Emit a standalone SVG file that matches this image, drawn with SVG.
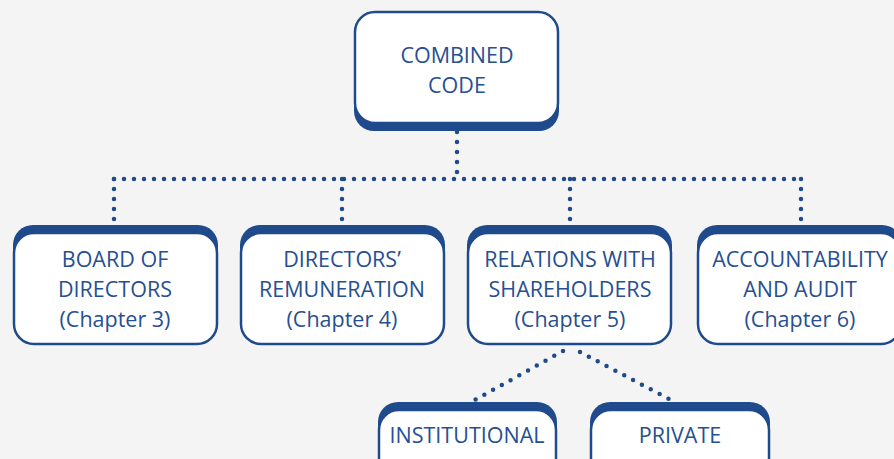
<svg xmlns="http://www.w3.org/2000/svg" width="894" height="459" viewBox="0 0 894 459">
<style>
.sh{fill:#1f4a8c}
.bx{fill:#ffffff;stroke:#1f4a8c;stroke-width:2.5}
.t{font-family:"Open Sans","Noto Sans",sans-serif;font-size:21.5px;fill:#274f91;text-anchor:middle}
.dot{fill:none;stroke:#1f4a8c;stroke-width:4.5;stroke-linecap:round;stroke-dasharray:0 10}
</style>
<rect width="894" height="459" fill="#f4f4f4"/>
<g id="connectors">
<path class="dot" d="M457 132 V178"/>
<path class="dot" d="M114 179 H801"/>
<path class="dot" d="M114 179 V222"/>
<path class="dot" d="M342 179 V222"/>
<path class="dot" d="M570 179 V222"/>
<path class="dot" d="M801 179 V222"/>
<path class="dot" d="M563 351 L473 401"/>
<path class="dot" d="M580 352 L671 400"/>
</g>
<g id="combined">
<rect class="sh" x="354" y="20" width="205" height="111" rx="20"/>
<rect class="bx" x="355" y="12" width="203" height="111" rx="20"/>
<text class="t" x="457" y="63">COMBINED</text>
<text class="t" x="457" y="93">CODE</text>
</g>
<g id="board">
<rect class="sh" x="13" y="225" width="205" height="112" rx="20"/>
<rect class="bx" x="14" y="233" width="203" height="111" rx="20"/>
<text class="t" x="115" y="267">BOARD OF</text>
<text class="t" x="115" y="297">DIRECTORS</text>
<text class="t" x="115" y="327">(Chapter 3)</text>
</g>
<g id="remuneration">
<rect class="sh" x="240" y="225" width="205" height="112" rx="20"/>
<rect class="bx" x="241" y="233" width="203" height="111" rx="20"/>
<text class="t" x="342" y="267">DIRECTORS’</text>
<text class="t" x="342" y="297">REMUNERATION</text>
<text class="t" x="342" y="327">(Chapter 4)</text>
</g>
<g id="relations">
<rect class="sh" x="467" y="225" width="205" height="112" rx="20"/>
<rect class="bx" x="468" y="233" width="203" height="111" rx="20"/>
<text class="t" x="570" y="267">RELATIONS WITH</text>
<text class="t" x="570" y="297">SHAREHOLDERS</text>
<text class="t" x="570" y="327">(Chapter 5)</text>
</g>
<g id="accountability">
<rect class="sh" x="697" y="225" width="205" height="112" rx="20"/>
<rect class="bx" x="698" y="233" width="203" height="111" rx="20"/>
<text class="t" x="800" y="267">ACCOUNTABILITY</text>
<text class="t" x="800" y="297">AND AUDIT</text>
<text class="t" x="800" y="327">(Chapter 6)</text>
</g>
<g id="institutional">
<rect class="sh" x="378" y="402" width="179" height="80" rx="20"/>
<rect class="bx" x="379" y="410" width="177" height="80" rx="20"/>
<text class="t" x="467" y="443">INSTITUTIONAL</text>
</g>
<g id="private">
<rect class="sh" x="590" y="402" width="180" height="80" rx="20"/>
<rect class="bx" x="591" y="410" width="178" height="80" rx="20"/>
<text class="t" x="680" y="443">PRIVATE</text>
</g>
</svg>
